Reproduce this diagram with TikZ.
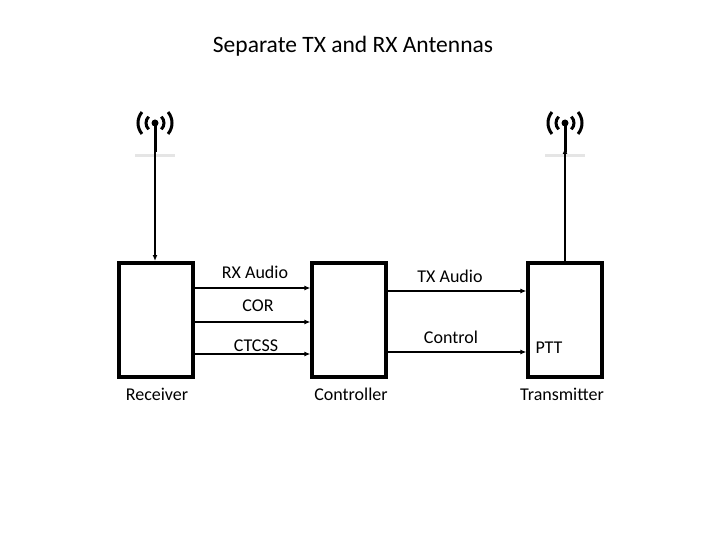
\documentclass[tikz,border=0pt]{standalone}
\usepackage{fontspec}
\setmainfont{Carlito}
\usetikzlibrary{arrows.meta}
\begin{document}
\begin{tikzpicture}[x=1pt,y=-1pt,
  box/.style={draw,line width=3.2pt,minimum width=74pt,minimum height=114pt,inner sep=0},
  lab/.style={font=\fontsize{18}{20}\selectfont,inner sep=1pt},
  sig/.style={line width=1.5pt,-{Latex[length=6pt,width=5pt]}},
  ant/.style={line width=3pt}]
\useasboundingbox (0,0) rectangle (720,540);
\node[font=\fontsize{23.5}{26}\selectfont] (title) at (353,46) {Separate TX and RX Antennas};
\node[box] (rx) at (156,320) {};
\node[box] (ct) at (349,320) {};
\node[box] (tx) at (565,320) {};
\node[lab] (rxl) at (157,394) {Receiver};
\node[lab] (ctl) at (351,394) {Controller};
\node[lab] (txl) at (562,394) {Transmitter};
% antennas
\foreach \cx in {155,565}{
  \fill (\cx,123) circle (3.5);
  \draw[ant] (\cx,123) -- (\cx,152);
  \draw[ant] (\cx,123) ++(135:9) arc (135:225:9);
  \draw[ant] (\cx,123) ++(45:9) arc (45:-45:9);
  \draw[ant] (\cx,123) ++(140:17) arc (140:220:17);
  \draw[ant] (\cx,123) ++(40:17) arc (40:-40:17);
  \draw[line width=3pt,black!10] (\cx-20,156) -- (\cx+20,156);
}
\coordinate (a1b) at (155,152);
\coordinate (a2b) at (565,148);
\draw[line width=1.3pt,-{Latex[length=6pt,width=5pt]}] (a1b) -- (155,261);
\draw[line width=1.3pt,-{Latex[length=6pt,width=5pt]}] (565,261) -- (a2b);
% signals
\draw[sig] (rx.east|-0,288) -- (ct.west|-0,288);
\draw[sig] (rx.east|-0,322) -- (ct.west|-0,322);
\draw[sig] (rx.east|-0,354) -- (ct.west|-0,354);
\draw[sig] (ct.east|-0,291) -- (tx.west|-0,291);
\draw[sig] (ct.east|-0,352) -- (tx.west|-0,352);
\node[lab] (l1) at (255,272) {RX Audio};
\node[lab] (l2) at (258,306) {COR};
\node[lab] (l3) at (256,346) {CTCSS};
\node[lab] (l4) at (450,276) {TX Audio};
\node[lab] (l5) at (451,337) {Control};
\node[lab] (l6) at (549,348) {PTT};
\end{tikzpicture}
\end{document}
